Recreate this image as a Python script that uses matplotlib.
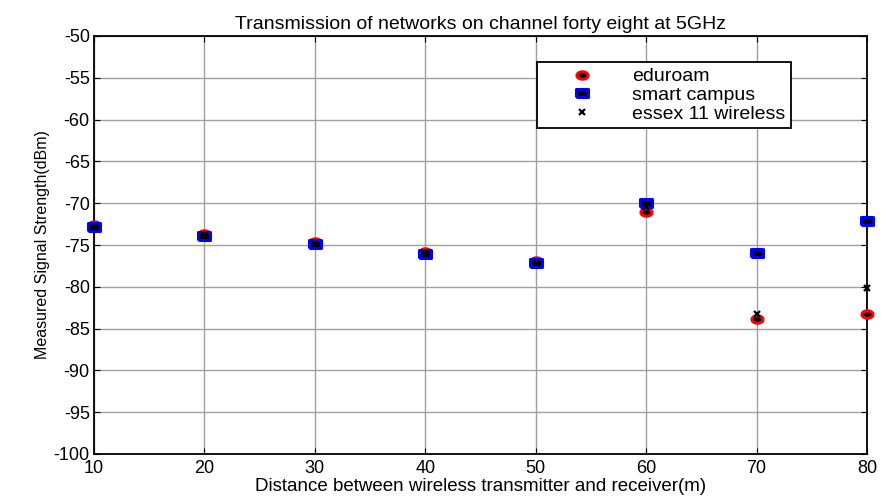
import matplotlib
matplotlib.use("Agg")
import numpy as np
import matplotlib.pyplot as plt

plt.rcParams['font.family'] = ['Liberation Sans', 'DejaVu Sans']
plt.rcParams['axes.unicode_minus'] = False

distance = [10, 20, 30, 40, 50, 60, 70, 80]
eduroam = [-72.6, -73.7, -74.7, -75.8, -76.9, -71.1, -83.9, -83.2]
smart_campus = [-72.8, -73.9, -74.9, -76.1, -77.2, -70.0, -75.9, -72.1]
essex_wireless = [-72.8, -73.8, -74.9, -76.0, -77.1, -70.5, -83.2, -80.2]

# slightly wide markers, like the stretched original
t = np.linspace(0, 2 * np.pi, 40)
ellipse = list(zip(0.75 * np.cos(t), 0.5 * np.sin(t)))
rect = [(-0.75, -0.5), (0.75, -0.5), (0.75, 0.5), (-0.75, 0.5), (-0.75, -0.5)]

fig = plt.figure(figsize=(8.81, 5.01), dpi=100)
ax = fig.add_axes([94 / 881, 1 - 454 / 501, (867 - 94) / 881, (454 - 36) / 501])

ax.plot(distance, eduroam, linestyle='none', marker=ellipse, markerfacecolor='black',
        markeredgecolor='red', markersize=8, markeredgewidth=2.2, clip_on=False,
        zorder=3, label='eduroam')
ax.plot(distance, smart_campus, linestyle='none', marker=rect, markerfacecolor='black',
        markeredgecolor='blue', markersize=8, markeredgewidth=2.2, clip_on=False,
        zorder=3, label='smart campus')
ax.plot(distance, essex_wireless, 'x', color='black', markersize=4,
        markeredgewidth=1.6, clip_on=False, zorder=4, label='essex 11 wireless')

ax.set_xlim(10, 80)
ax.set_ylim(-100, -50)
ax.set_xticks(range(10, 81, 10))
ax.set_yticks(range(-100, -49, 5))
ax.tick_params(direction='in', labelsize=13, length=4, top=True, right=True)
ax.tick_params(axis='x', pad=4)
ax.tick_params(axis='y', pad=3)
ax.grid(True, color='#a0a0a0', linewidth=1)
for sp in ax.spines.values():
    sp.set_linewidth(1.3)

ax.set_title('Transmission of networks on channel forty eight at 5GHz', fontsize=14, pad=5)
ax.set_xlabel('Distance between wireless transmitter and receiver(m)', fontsize=13.5, labelpad=1)
ax.set_ylabel('Measured Signal Strength(dBm)', fontsize=11.5, labelpad=3)

leg = ax.legend(loc='upper left', bbox_to_anchor=((537 - 94) / 773, 1 - (62 - 36) / 418),
                fontsize=14, fancybox=False, edgecolor='black', framealpha=1,
                handletextpad=0.6, borderpad=0.3, labelspacing=0.05, handlelength=4.0,
                borderaxespad=0)
leg.get_frame().set_linewidth(1.3)

fig.savefig('out.png', dpi=100)
